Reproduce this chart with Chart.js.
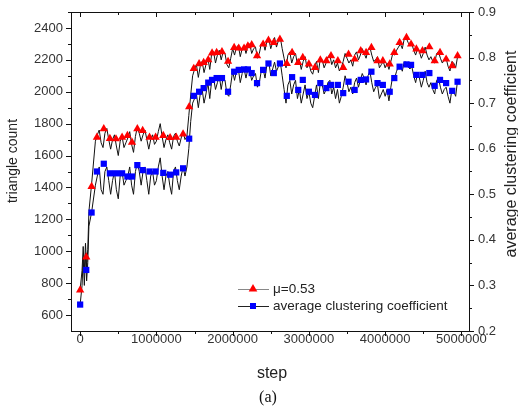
<!DOCTYPE html>
<html><head><meta charset="utf-8">
<script src="https://cdn.jsdelivr.net/npm/chart.js@4/dist/chart.umd.min.js"></script>
<style>html,body{margin:0;padding:0;background:#fff;}canvas{display:block;}</style>
</head><body>
<canvas id="c" width="518" height="419"></canvas>
<script>
// ---- data ----
const markerSteps = [0,80000,150000,220000,310000,390000,470000,550000,620000,680000,750000,820000,910000,990000,1090000,1180000,1260000,1350000,1430000,1490000,1560000,1620000,1680000,1730000,1790000,1860000,1940000,2020000,2080000,2150000,2200000,2250000,2320000,2400000,2470000,2540000,2620000,2710000,2780000,2860000,2920000,3000000,3080000,3150000,3230000,3290000,3380000,3450000,3520000,3600000,3680000,3750000,3820000,3900000,3970000,4060000,4120000,4190000,4280000,4340000,4410000,4490000,4580000,4650000,4720000,4800000,4880000,4950000];
const triangleMarkers = [756,964,1406,1714,1767,1706,1704,1714,1725,1683,1767,1756,1714,1714,1725,1712,1714,1735,1906,2145,2175,2183,2200,2242,2246,2250,2190,2277,2273,2273,2287,2294,2225,2298,2323,2308,2329,2177,2246,2183,2214,2173,2152,2198,2194,2225,2194,2152,2235,2204,2256,2246,2277,2194,2194,2173,2246,2308,2340,2298,2267,2256,2281,2194,2246,2204,2162,2225];
const clusteringMarkers = [0.258,0.334,0.460,0.550,0.567,0.546,0.546,0.546,0.539,0.539,0.564,0.553,0.550,0.550,0.547,0.543,0.548,0.557,0.622,0.716,0.725,0.733,0.745,0.751,0.755,0.755,0.725,0.769,0.773,0.774,0.774,0.766,0.744,0.773,0.787,0.766,0.787,0.716,0.757,0.729,0.751,0.725,0.718,0.744,0.733,0.740,0.740,0.722,0.747,0.729,0.751,0.752,0.769,0.744,0.740,0.725,0.755,0.780,0.785,0.784,0.762,0.762,0.766,0.738,0.751,0.744,0.727,0.747];

const traceSteps = [0,25000,40000,55000,70000,85000,100000,115000,150000,
 200000,225000,250000,275000,300000,325000,350000,375000,
 400000,425000,450000,475000,500000,525000,550000,575000,
 600000,625000,650000,675000,700000,725000,750000,775000,
 800000,825000,850000,875000,900000,925000,950000,975000,
 1000000,1025000,1050000,1075000,1100000,1125000,1150000,1175000,
 1200000,1225000,1250000,1275000,1300000,1325000,1350000,1375000,
 1400000,1425000,1450000,1475000,1500000,1525000,1550000,1575000,
 1600000,1625000,1650000,1675000,1700000,1725000,1750000,1775000,
 1800000,1825000,1850000,1875000,1900000,1925000,1950000,1975000,
 2000000,2025000,2050000,2075000,2100000,2125000,2150000,2175000,
 2200000,2225000,2250000,2275000,2300000,2325000,2350000,2375000,
 2400000,2425000,2450000,2475000,2500000,2525000,2550000,2575000,
 2600000,2625000,2650000,2675000,2700000,2725000,2750000,2775000,
 2800000,2825000,2850000,2875000,2900000,2925000,2950000,2975000,
 3000000,3025000,3050000,3075000,3100000,3125000,3150000,3175000,
 3200000,3225000,3250000,3275000,3300000,3325000,3350000,3375000,
 3400000,3425000,3450000,3475000,3500000,3525000,3550000,3575000,
 3600000,3625000,3650000,3675000,3700000,3725000,3750000,3775000,
 3800000,3825000,3850000,3875000,3900000,3925000,3950000,3975000,
 4000000,4025000,4050000,4075000,4100000,4125000,4150000,4175000,
 4200000,4225000,4250000,4275000,4300000,4325000,4350000,4375000,
 4400000,4425000,4450000,4475000,4500000,4525000,4550000,4575000,
 4600000,4625000,4650000,4675000,4700000,4725000,4750000,4775000,
 4800000,4825000,4850000,4875000,4900000,4925000,4950000];
const triangleTrace = [760,880,1030,870,1050,900,1010,1250,1420,
 1690,1730,1760,1680,1650,1740,1770,1700,
 1640,1700,1730,1660,1600,1690,1720,1650,
 1680,1710,1750,1670,1620,1720,1780,1740,
 1690,1730,1760,1700,1640,1700,1730,1670,
 1690,1750,1800,1720,1650,1700,1730,1680,
 1640,1720,1740,1690,1660,1710,1750,1700,
 1720,1850,1980,2100,2140,2170,2090,2160,
 2190,2120,2170,2210,2140,2240,2250,2180,
 2230,2260,2200,2250,2240,2170,2150,2210,
 2270,2230,2280,2290,2220,2270,2290,2240,
 2290,2300,2240,2270,2280,2210,2240,2300,
 2310,2260,2320,2330,2270,2310,2340,2280,
 2320,2340,2270,2210,2150,2230,2250,2180,
 2220,2240,2170,2200,2140,2190,2220,2150,
 2180,2130,2110,2160,2190,2120,2210,2200,
 2150,2180,2220,2230,2170,2200,2150,2180,
 2130,2150,2190,2240,2210,2180,2200,2160,
 2230,2250,2200,2230,2270,2240,2210,2260,
 2280,2230,2190,2200,2220,2150,2170,2190,
 2150,2180,2140,2190,2240,2230,2260,2280,
 2300,2270,2330,2340,2310,2290,2300,2260,
 2230,2270,2250,2210,2240,2280,2230,2200,
 2220,2190,2180,2240,2250,2210,2180,2200,
 2210,2160,2130,2190,2180,2150,2220];
const clusteringTrace = [0.258,0.30,0.36,0.30,0.37,0.31,0.35,0.43,0.46,
 0.52,0.54,0.56,0.51,0.50,0.55,0.56,0.53,
 0.50,0.53,0.55,0.51,0.49,0.54,0.55,0.52,
 0.53,0.54,0.56,0.52,0.50,0.55,0.57,0.55,
 0.52,0.55,0.56,0.53,0.50,0.54,0.55,0.52,
 0.53,0.56,0.58,0.54,0.51,0.54,0.55,0.52,
 0.50,0.55,0.56,0.53,0.51,0.54,0.56,0.54,
 0.56,0.60,0.66,0.70,0.71,0.72,0.69,0.72,
 0.73,0.70,0.72,0.745,0.71,0.75,0.755,0.73,
 0.745,0.76,0.73,0.755,0.75,0.72,0.715,0.74,
 0.77,0.75,0.77,0.775,0.745,0.765,0.775,0.755,
 0.775,0.77,0.75,0.76,0.765,0.735,0.745,0.77,
 0.775,0.755,0.785,0.79,0.76,0.775,0.79,0.77,
 0.78,0.79,0.76,0.73,0.70,0.74,0.75,0.72,
 0.74,0.75,0.71,0.73,0.70,0.72,0.74,0.71,
 0.725,0.70,0.69,0.715,0.74,0.71,0.745,0.74,
 0.72,0.73,0.745,0.75,0.72,0.735,0.71,0.73,
 0.70,0.715,0.735,0.76,0.745,0.725,0.735,0.72,
 0.745,0.755,0.735,0.75,0.765,0.755,0.74,0.76,
 0.77,0.745,0.725,0.735,0.74,0.71,0.72,0.73,
 0.715,0.73,0.705,0.735,0.76,0.755,0.77,0.78,
 0.785,0.77,0.79,0.79,0.78,0.775,0.78,0.76,
 0.745,0.765,0.755,0.735,0.75,0.77,0.745,0.735,
 0.745,0.73,0.72,0.75,0.755,0.735,0.72,0.73,
 0.735,0.715,0.70,0.73,0.725,0.715,0.75];

const xTicks = [0,1000000,2000000,3000000,4000000,5000000];
const leftTicks = [600,800,1000,1200,1400,1600,1800,2000,2200,2400];
const rightTicks = [0.2,0.3,0.4,0.5,0.6,0.7,0.8,0.9];

const legendLabels = ['\u03bc=0.53', 'average clustering coefficient'];
const xTitle = 'step', leftTitle = 'triangle count', rightTitle = 'average clustering coefficient', caption = '(a)';

const FONT = '"Liberation Sans", Arial, sans-serif';
const RED = '#ff0000', BLUE = '#0000ff';

const pts = (xs, ys) => xs.map((x, i) => ({x, y: ys[i]}));

function drawTri(ctx, x, y, r, color) {
  ctx.beginPath();
  ctx.moveTo(x, y - r);
  ctx.lineTo(x + r * 0.866, y + r * 0.5);
  ctx.lineTo(x - r * 0.866, y + r * 0.5);
  ctx.closePath();
  ctx.fillStyle = color; ctx.fill();
}
function drawSq(ctx, x, y, s, color) {
  ctx.fillStyle = color; ctx.fillRect(x - s / 2, y - s / 2, s, s);
}

const decorPlugin = {
  id: 'decor',
  afterDraw(chart) {
    const ctx = chart.ctx, a = chart.chartArea;
    const xs = chart.scales.x, yl = chart.scales.y, yr = chart.scales.y1;
    ctx.save();
    ctx.strokeStyle = '#111'; ctx.lineWidth = 1;
    ctx.strokeRect(Math.round(a.left) + 0.5, Math.round(a.top) + 0.5, Math.round(a.right - a.left), Math.round(a.bottom - a.top));
    ctx.beginPath();
    for (let v = 0; v <= 5000000; v += 500000) {
      const px = Math.round(xs.getPixelForValue(v)) + 0.5;
      const len = (v % 1000000 === 0) ? 5 : 3;
      ctx.moveTo(px, a.bottom); ctx.lineTo(px, a.bottom + len);
      ctx.moveTo(px, a.top); ctx.lineTo(px, a.top + len);
    }
    for (let v = 600; v <= 2500; v += 100) {
      const py = Math.round(yl.getPixelForValue(v)) + 0.5;
      const len = (v % 200 === 0) ? 5 : 3;
      ctx.moveTo(a.left, py); ctx.lineTo(a.left - len, py);
    }
    for (let i = 0; i <= 14; i++) {
      const v = 0.2 + i * 0.05;
      const py = Math.round(yr.getPixelForValue(v)) + 0.5;
      const len = (i % 2 === 0) ? 5 : 3;
      ctx.moveTo(a.right, py); ctx.lineTo(a.right + len, py);
    }
    ctx.stroke();

    ctx.fillStyle = '#222';
    ctx.textAlign = 'center'; ctx.textBaseline = 'middle';
    ctx.font = '16px ' + FONT;
    ctx.fillText(xTitle, (a.left + a.right) / 2 + 2, 374);
    ctx.save();
    ctx.translate(13, 161); ctx.rotate(-Math.PI / 2);
    ctx.font = '14px ' + FONT;
    ctx.fillText(leftTitle, 0, 0);
    ctx.restore();
    ctx.save();
    ctx.translate(512, 154); ctx.rotate(-Math.PI / 2);
    ctx.font = '16px ' + FONT;
    ctx.fillText(rightTitle, 0, 0);
    ctx.restore();
    ctx.font = '16px "Liberation Serif", "Times New Roman", serif';
    ctx.fillStyle = '#111';
    ctx.fillText(caption, 268, 398);

    const lx0 = 238, lx1 = 269, mx = 253, tx = 273;
    const rows = [289, 306];
    ctx.lineWidth = 1;
    ctx.strokeStyle = '#888';
    ctx.beginPath(); ctx.moveTo(lx0, rows[0] + 0.5); ctx.lineTo(lx1, rows[0] + 0.5); ctx.stroke();
    drawTri(ctx, mx, rows[0], 5, RED);
    ctx.strokeStyle = '#222';
    ctx.beginPath(); ctx.moveTo(lx0, rows[1] + 0.5); ctx.lineTo(lx1, rows[1] + 0.5); ctx.stroke();
    drawSq(ctx, mx, rows[1], 6, BLUE);
    ctx.fillStyle = '#222'; ctx.textAlign = 'left';
    ctx.font = '13.5px ' + FONT;
    ctx.fillText(legendLabels[0], tx, rows[0]);
    ctx.fillText(legendLabels[1], tx, rows[1]);
    ctx.restore();
  }
};

const noPad = s => { s.paddingTop = 0; s.paddingBottom = 0; s.paddingLeft = 0; s.paddingRight = 0; };

new Chart(document.getElementById('c'), {
  type: 'line',
  data: {
    datasets: [
      { label: legendLabels[0], data: pts(markerSteps, triangleMarkers), yAxisID: 'y', showLine: false,
        pointStyle: 'triangle', pointRadius: 4.8, pointBackgroundColor: RED, pointBorderColor: RED, pointBorderWidth: 0, order: 1 },
      { label: legendLabels[1], data: pts(markerSteps, clusteringMarkers), yAxisID: 'y1', showLine: false,
        pointStyle: 'rect', pointRadius: 4.4, pointBackgroundColor: BLUE, pointBorderColor: BLUE, pointBorderWidth: 0, order: 2 },
      { label: 'triangle trace', data: pts(traceSteps, triangleTrace), yAxisID: 'y', borderColor: '#111', borderWidth: 1,
        pointRadius: 0, tension: 0, order: 3 },
      { label: 'clustering trace', data: pts(traceSteps, clusteringTrace), yAxisID: 'y1', borderColor: '#111', borderWidth: 1,
        pointRadius: 0, tension: 0, order: 4 }
    ]
  },
  options: {
    responsive: false, devicePixelRatio: 1, animation: false,
    layout: { padding: { top: 12, left: 0, right: 0, bottom: 0 } },
    plugins: { legend: { display: false }, tooltip: { enabled: false }, title: { display: false } },
    scales: {
      x: {
        type: 'linear', position: 'bottom', min: -120000, max: 5100000,
        grid: { display: false, drawTicks: false }, border: { display: false },
        afterBuildTicks: s => { s.ticks = xTicks.map(v => ({ value: v })); },
        afterFit: s => { s.height = 88; noPad(s); },
        ticks: { color: '#333', font: { family: FONT, size: 13 }, padding: 1, maxRotation: 0, autoSkip: false,
                 callback: v => String(v) }
      },
      y: {
        type: 'linear', position: 'left', min: 500, max: 2500,
        grid: { display: false, drawTicks: false }, border: { display: false },
        afterBuildTicks: s => { s.ticks = leftTicks.map(v => ({ value: v })); },
        afterFit: s => { s.width = 71; noPad(s); },
        ticks: { color: '#333', font: { family: FONT, size: 13 }, padding: 8, autoSkip: false, callback: v => String(v) }
      },
      y1: {
        type: 'linear', position: 'right', min: 0.2, max: 0.9,
        grid: { display: false, drawTicks: false }, border: { display: false },
        afterBuildTicks: s => { s.ticks = rightTicks.map(v => ({ value: v })); },
        afterFit: s => { s.width = 49; noPad(s); },
        ticks: { color: '#333', font: { family: FONT, size: 13 }, padding: 9, autoSkip: false, callback: v => Number(v).toFixed(1) }
      }
    }
  },
  plugins: [decorPlugin]
});
</script>
</body></html>
